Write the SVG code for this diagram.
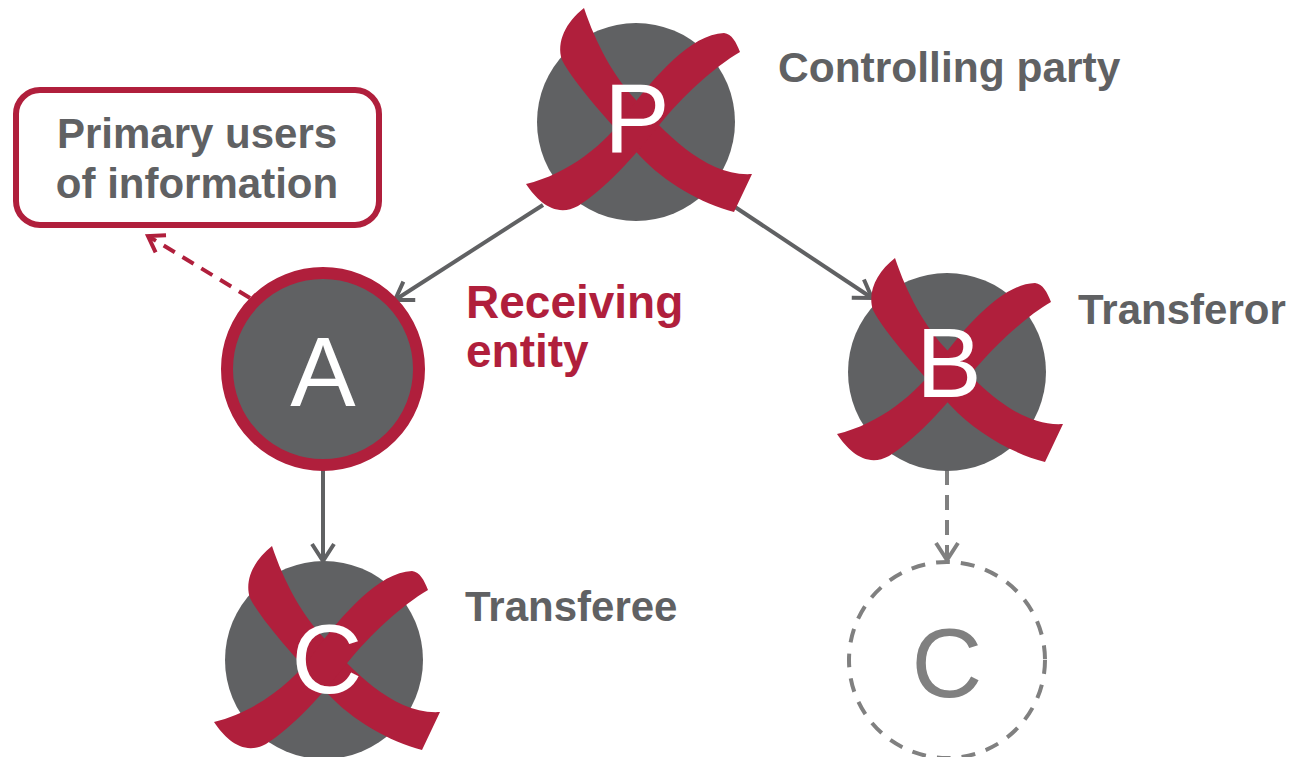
<svg xmlns="http://www.w3.org/2000/svg" xmlns:xlink="http://www.w3.org/1999/xlink" width="1291" height="757" viewBox="0 0 1291 757">
<style>
.lbl{font-family:"Liberation Sans",Arial,sans-serif;font-weight:bold;font-size:42px;fill:#606163}
.red{fill:#b01f3c}
.letter{font-family:"Liberation Sans",Arial,sans-serif;font-size:98px;fill:#ffffff;text-anchor:middle}
.disc{fill:#606163}
.x{fill:#b01f3c}
.conn{stroke:#606163;stroke-width:4;fill:none}
</style>
<defs>
<marker id="ah" markerUnits="userSpaceOnUse" markerWidth="40" markerHeight="40" viewBox="-20 -20 40 40" refX="0" refY="0" orient="auto">
<path d="M-17,-11 L0,0 L-17,11" fill="none" stroke="#606163" stroke-width="4"/>
</marker>
<marker id="ahr" markerUnits="userSpaceOnUse" markerWidth="40" markerHeight="40" viewBox="-20 -20 40 40" refX="0" refY="0" orient="auto">
<path d="M-15,-10 L0,0 L-15,10" fill="none" stroke="#b01f3c" stroke-width="4"/>
</marker>
<marker id="ahg" markerUnits="userSpaceOnUse" markerWidth="40" markerHeight="40" viewBox="-20 -20 40 40" refX="0" refY="0" orient="auto">
<path d="M-17,-11 L0,0 L-17,11" fill="none" stroke="#808080" stroke-width="4"/>
</marker>
<g id="cross">
<path class="x" d="M-52,-114 C-40,-78 -22,-45 0,-22 C28,10 70,55 116,52 L98,90 C66,82 28,60 4,34 C-22,5 -62,-38 -74,-62 C-80,-80 -70,-100 -52,-114 Z"/>
<path class="x" d="M-110,62 C-68,52 -30,22 -8,-10 C18,-45 55,-88 88,-89 C96,-88 100,-80 104,-70 C78,-55 46,-25 24,2 C-2,35 -32,68 -58,84 C-80,96 -98,80 -110,62 Z"/>
</g>
</defs>
<rect width="1291" height="757" fill="#ffffff"/>
<g id="connectors">
<line class="conn" x1="543" y1="205" x2="395" y2="300" marker-end="url(#ah)"/>
<line class="conn" x1="732" y1="205" x2="872" y2="298" marker-end="url(#ah)"/>
<line class="conn" x1="323" y1="468" x2="323" y2="561" marker-end="url(#ah)"/>
<line x1="250" y1="298" x2="148" y2="236" stroke="#b01f3c" stroke-width="4" stroke-dasharray="13 9" fill="none" marker-end="url(#ahr)"/>
<line x1="947" y1="470" x2="947" y2="560" stroke="#808080" stroke-width="4" stroke-dasharray="15 10" fill="none" marker-end="url(#ahg)"/>
</g>
<g id="node-users">
<rect x="16" y="90" width="363" height="135" rx="24" fill="#ffffff" stroke="#b01f3c" stroke-width="6"/>
<text class="lbl" x="197" y="148" text-anchor="middle">Primary users</text>
<text class="lbl" x="197" y="198" text-anchor="middle">of information</text>
</g>
<g id="node-P">
<circle class="disc" cx="636" cy="122" r="99"/>
<use xlink:href="#cross" x="636" y="122"/>
<text class="letter" x="637" y="152">P</text>
<text class="lbl" x="778" y="82" style="font-size:42.5px">Controlling party</text>
</g>
<g id="node-A">
<circle class="disc" cx="323" cy="369" r="96" stroke="#b01f3c" stroke-width="12"/>
<text class="letter" x="323" y="406">A</text>
<text class="lbl red" x="466" y="318" style="font-size:46px">Receiving</text>
<text class="lbl red" x="466" y="367" style="font-size:46px">entity</text>
</g>
<g id="node-B">
<circle class="disc" cx="947" cy="372" r="99"/>
<use xlink:href="#cross" x="947" y="372"/>
<text class="letter" x="949" y="397">B</text>
<text class="lbl" x="1078" y="324">Transferor</text>
</g>
<g id="node-C1">
<circle class="disc" cx="324" cy="660" r="99"/>
<use xlink:href="#cross" x="324" y="660"/>
<text class="letter" x="327" y="693">C</text>
<text class="lbl" x="465" y="621">Transferee</text>
</g>
<g id="node-C2">
<circle cx="947" cy="660" r="98" fill="none" stroke="#808080" stroke-width="4" stroke-dasharray="14 11"/>
<text class="letter" x="947" y="697" style="fill:#808080">C</text>
</g>
</svg>
